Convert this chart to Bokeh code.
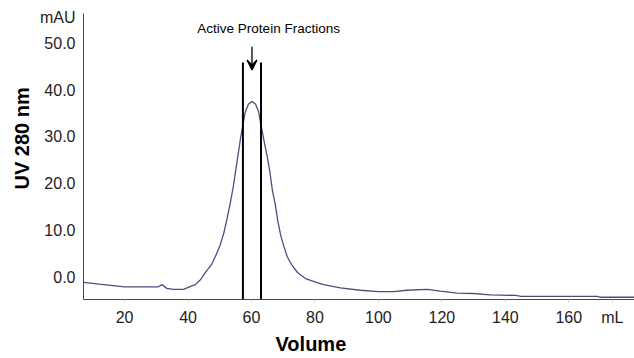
from bokeh.plotting import figure
from bokeh.models import Arrow, VeeHead, FixedTicker, PrintfTickFormatter, Range1d, Title, Label
from bokeh.embed import file_html
from bokeh.resources import INLINE

# Chromatogram trace (Volume in mL, UV 280 nm in mAU)
volume_ml = [7.1, 12, 20, 30.5, 31.8, 33.3, 35.4, 38.6, 39.7, 41.0, 42.3, 44.0, 45.5,
             47.5, 49.0, 50.2, 51.3, 52.3, 53.3, 54.3, 55.4, 56.5, 57.3, 58.0, 59.0,
             60.2, 61.3, 62.2, 63.0, 64.0, 64.9, 65.8, 66.6, 67.5, 68.3, 69.2, 70.1,
             71.3, 72.8, 74.5, 77.0, 80.0, 82.7, 88.0, 94.3, 100, 104.8, 109.0, 115.3,
             119.5, 124.8, 130.0, 135.3, 143.2, 145, 169, 170, 180.7]
uv_mau = [-1.1, -1.5, -2.1, -2.1, -1.6, -2.4, -2.6, -2.6, -2.3, -1.9, -1.6, -0.5, 1.0,
          2.8, 5.0, 7.0, 9.5, 12.5, 15.8, 19.5, 24.5, 29.5, 32.5, 35.2, 37.0,
          37.6, 37.0, 35.5, 32.5, 29.0, 26.0, 22.5, 18.5, 15.5, 12.0, 9.0, 6.8,
          4.3, 2.5, 1.0, -0.3, -1.0, -1.6, -2.3, -2.8, -3.1, -3.1, -2.8, -2.6,
          -3.0, -3.4, -3.5, -3.8, -3.9, -4.1, -4.1, -4.3, -4.3]

x_ticks = [20, 40, 60, 80, 100, 120, 140, 160]
y_ticks = [0, 10, 20, 30, 40, 50]
x_unit_pos, x_unit = 173.7, "mL"
y_unit_pos, y_unit = 55.6, "mAU"

# Active fraction window
fraction_bounds = [57.3, 63.0]
fraction_top = 45.9
arrow_from = 49.3
annotation_text = "Active Protein Fractions"

x_min, x_max = 7.06, 180.7
y_min, y_max = -4.78, 56.4

FONT = "Liberation Sans"
CURVE = "#4d4d80"
AXIS = "#454555"

p = figure(width=634, height=358, output_backend="svg", toolbar_location=None,
           x_range=Range1d(x_min, x_max), y_range=Range1d(y_min, y_max),
           min_border_left=83, min_border_right=0, min_border_top=13, min_border_bottom=59)
p.outline_line_color = None
p.grid.grid_line_color = None

p.line(volume_ml, uv_mau, line_color=CURVE, line_width=1.3)

p.segment(x0=fraction_bounds, y0=[y_min - 1] * 2, x1=fraction_bounds, y1=[fraction_top] * 2,
          line_color="black", line_width=2)

mid = sum(fraction_bounds) / 2
p.add_layout(Arrow(end=VeeHead(size=10, line_color="black", line_width=1.3),
                   x_start=mid, y_start=arrow_from, x_end=mid, y_end=fraction_top - 1.6,
                   line_color="black", line_width=1.3))

p.add_layout(Label(x=65.4, y=53.2, text=annotation_text, text_font=FONT,
                   text_font_size="13.5px", text_align="center", text_baseline="alphabetic",
                   text_color="black"))

# axes
p.xaxis.ticker = FixedTicker(ticks=x_ticks + [x_unit_pos])
p.xaxis.major_label_overrides = {x_unit_pos: x_unit}
p.yaxis.ticker = FixedTicker(ticks=y_ticks + [y_unit_pos])
p.yaxis.formatter = PrintfTickFormatter(format="%.1f")
p.yaxis.major_label_overrides = {y_unit_pos: y_unit}
for ax in (p.xaxis, p.yaxis):
    ax.axis_line_color = AXIS
    ax.axis_line_width = 1
    ax.major_label_text_font = FONT
    ax.major_label_text_font_size = "16px"
    ax.major_label_text_color = "#222222"
    ax.minor_tick_line_color = None
p.xaxis.major_tick_line_color = "#cccccc"
p.xaxis.major_tick_out = 3
p.xaxis.major_tick_in = 0
p.xaxis.major_label_standoff = 6
p.yaxis.major_tick_line_color = None
p.yaxis.major_tick_out = 0
p.yaxis.major_tick_in = 0
p.yaxis.major_label_standoff = 8

# axis titles
p.add_layout(Title(text="Volume", align="left", offset=192, standoff=5,
                   text_font=FONT, text_font_size="20px", text_font_style="bold",
                   text_color="black"), "below")
p.add_layout(Title(text="UV 280 nm", align="left", offset=110, standoff=8,
                   text_font=FONT, text_font_size="20px", text_font_style="bold",
                   text_color="black"), "left")

open("out.html", "w").write(file_html(p, INLINE))
